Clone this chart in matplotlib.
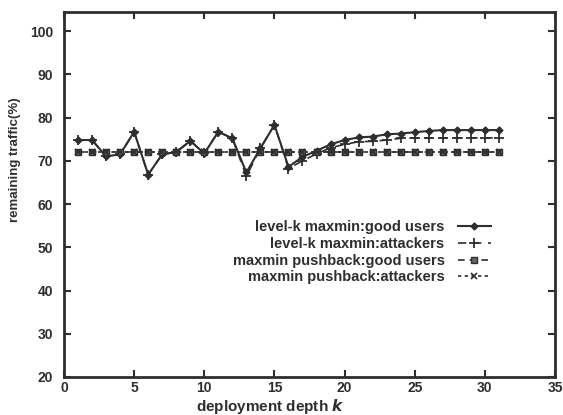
import matplotlib
matplotlib.use("Agg")
import matplotlib.pyplot as plt

depth = list(range(1, 32))

good_users = [74.8, 74.8, 71.0, 71.5, 76.7, 66.8, 71.5, 72.0, 74.6, 71.7,
              76.7, 75.2, 67.3, 72.9, 78.3, 68.6, 70.9, 72.3, 73.8, 74.8,
              75.4, 75.6, 76.1, 76.3, 76.6, 76.9, 77.1, 77.1, 77.1, 77.1, 77.1]
attackers = [74.8, 74.8, 71.0, 71.5, 76.7, 66.8, 71.5, 72.0, 74.6, 71.7,
             76.7, 75.2, 66.4, 72.9, 78.3, 68.2, 70.0, 71.6, 73.0, 73.8,
             74.4, 74.5, 74.8, 75.2, 75.3, 75.3, 75.3, 75.3, 75.3, 75.3, 75.3]
pushback_good = [72.0] * 31
pushback_attackers = [72.0] * 31

labels = ["level-k maxmin:good users", "level-k maxmin:attackers",
          "maxmin pushback:good users", "maxmin pushback:attackers"]

x_ticks = [0, 5, 10, 15, 20, 25, 30, 35]
y_ticks = [20, 30, 40, 50, 60, 70, 80, 90, 100]

ink = "#2e2e2e"
plt.rcParams["font.family"] = ["Liberation Sans", "DejaVu Sans"]
plt.rcParams["font.weight"] = "bold"

fig = plt.figure(figsize=(5.63, 4.15), dpi=100)
ax = fig.add_axes([0.1137, 0.0916, 0.8721, 0.8794])

ax.plot(depth, good_users, color=ink, lw=1.5, ls="-", marker="D", ms=3.5,
        label=labels[0])
ax.plot(depth, attackers, color=ink, lw=1.2, ls=(0, (5, 4)), marker="+", ms=6.5,
        mew=1.3, label=labels[1])
ax.plot(depth, pushback_good, color=ink, lw=1.2, ls=(0, (4, 3)), marker="s",
        ms=4, mfc="#666666", label=labels[2])
ax.plot(depth, pushback_attackers, color=ink, lw=1.2, ls=(0, (2, 2)), marker="x",
        ms=4, mew=1.2, label=labels[3])

ax.set_xlim(0, 35)
ax.set_ylim(20, 104.4)
ax.set_xticks(x_ticks)
ax.set_yticks(y_ticks)
ax.tick_params(direction="in", top=True, right=True, length=5, width=1.5,
               colors=ink, labelsize=10)
ax.tick_params(axis="y", pad=8)
ax.tick_params(axis="x", pad=3)
for lbl in ax.get_xticklabels() + ax.get_yticklabels():
    lbl.set_fontweight("bold")
for sp in ax.spines.values():
    sp.set_linewidth(2)
    sp.set_color(ink)

ax.set_xlabel("deployment depth $\\boldsymbol{k}$", fontsize=11,
              fontweight="bold", color=ink)
ax.set_ylabel("remaining traffic(%)", fontsize=9.5, fontweight="bold",
              color=ink)
ax.xaxis.set_label_coords(0.42, -0.055)
ax.yaxis.set_label_coords(-0.087, 0.595)

leg = ax.legend(loc="upper right", bbox_to_anchor=(0.882, 0.445), frameon=False,
                markerfirst=False, fontsize=10.5, handlelength=2.3,
                labelspacing=0.18, handletextpad=0.9, borderaxespad=0)
for t in leg.get_texts():
    t.set_color(ink)
    t.set_fontweight("bold")

fig.savefig("out.png", dpi=100)
